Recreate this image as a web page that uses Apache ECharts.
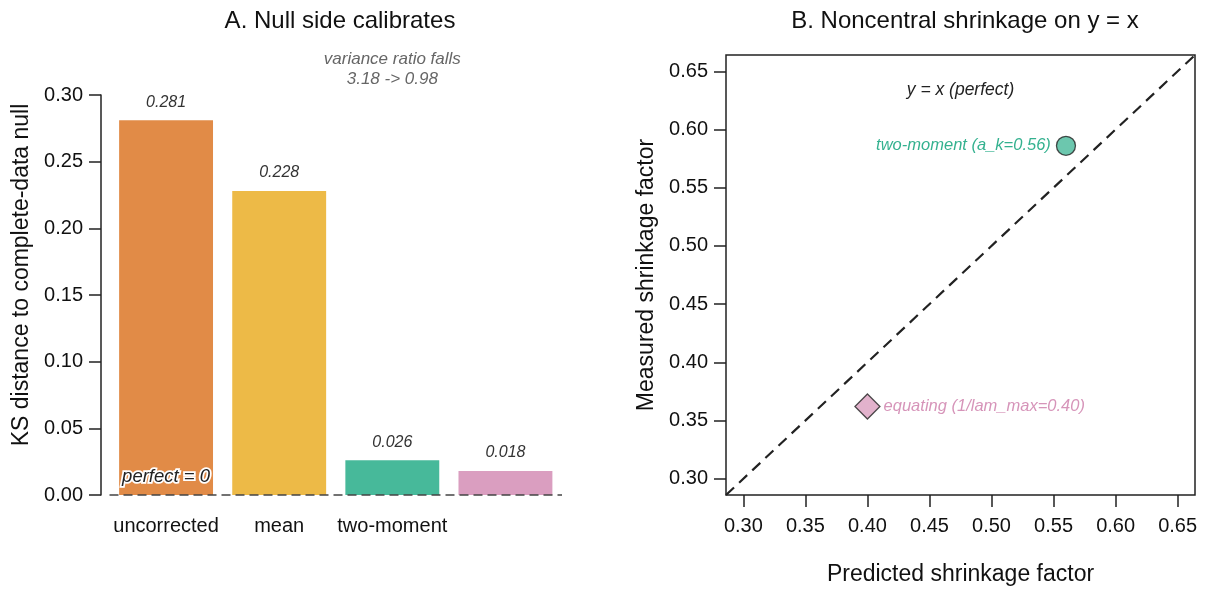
<!DOCTYPE html>
<html>
<head>
<meta charset="utf-8">
<script src="https://cdn.jsdelivr.net/npm/echarts@6/dist/echarts.min.js"></script>
<style>
  html, body { margin: 0; padding: 0; background: #fff; }
  #chart { width: 1205px; height: 593px; }
</style>
</head>
<body>
<div id="chart"></div>
<script>
// panel A data
const categories = ['uncorrected', 'mean', 'two-moment', 'equating'];
const ksDistance = [0.281, 0.228, 0.026, 0.018];
const barColors = ['rgba(213,94,0,0.72)', 'rgba(230,159,0,0.72)', 'rgba(0,158,115,0.72)', 'rgba(204,121,167,0.72)'];
const ticksA = [0, 0.05, 0.10, 0.15, 0.20, 0.25, 0.30];

// panel B data
const pointNames = ['two-moment (a_k=0.56)', 'equating (1/lam_max=0.40)'];
const predicted = [0.56, 0.40];
const measured = [0.586, 0.362];
const ticksB = [0.30, 0.35, 0.40, 0.45, 0.50, 0.55, 0.60, 0.65];
const rangeB = [0.286, 0.664];

const font = 'Liberation Sans, Arial, sans-serif';
const ink = '#222';

document.addEventListener('DOMContentLoaded', function() {
    const chart = echarts.init(document.getElementById('chart'));
    const fmt2 = function(v) { return v.toFixed(2); };

    const option = {
        animation: false,
        textStyle: { fontFamily: font },
        title: [
            { text: 'A. Null side calibrates', left: 335, top: 4, textAlign: 'center',
              textStyle: { fontSize: 24, fontWeight: 'normal', color: '#111', fontFamily: font } },
            { text: 'B. Noncentral shrinkage on y = x', left: 960, top: 4, textAlign: 'center',
              textStyle: { fontSize: 24, fontWeight: 'normal', color: '#111', fontFamily: font } }
        ],
        grid: [
            { left: 109.5, top: 55, width: 452.5, height: 440 },
            { left: 101, top: 95, width: 1, height: 400 },
            { left: 726, top: 55, width: 469, height: 440, show: true,
              borderColor: ink, borderWidth: 1.5, backgroundColor: 'transparent' }
        ],
        xAxis: [
            {
                type: 'category', gridIndex: 0, data: categories,
                axisLine: { show: false }, axisTick: { show: false },
                axisLabel: {
                    interval: 0, fontSize: 20, color: '#111', margin: 21,
                    formatter: function(v, i) { return i === 3 ? '' : v; }
                }
            },
            { type: 'value', gridIndex: 1, show: false },
            {
                type: 'value', gridIndex: 2, min: rangeB[0], max: rangeB[1],
                axisLine: { show: false },
                axisTick: { show: true, customValues: ticksB, length: 12, lineStyle: { color: ink, width: 1.5 } },
                axisLabel: { customValues: ticksB, formatter: fmt2, fontSize: 20, color: '#111', margin: 21 },
                splitLine: { show: false },
                name: 'Predicted shrinkage factor', nameLocation: 'middle', nameGap: 68,
                nameTextStyle: { fontSize: 23, color: '#111' }
            }
        ],
        yAxis: [
            {
                type: 'value', gridIndex: 0, min: 0, max: 0.33, offset: 8.5,
                axisLine: { show: false },
                axisTick: { show: true, customValues: ticksA, length: 12, lineStyle: { color: ink, width: 1.5 } },
                axisLabel: { customValues: ticksA, formatter: fmt2, fontSize: 20, color: '#111', margin: 18 },
                splitLine: { show: false },
                name: 'KS distance to complete-data null', nameLocation: 'middle', nameGap: 68,
                nameTextStyle: { fontSize: 23, color: '#111' }
            },
            {
                type: 'value', gridIndex: 1, min: 0, max: 0.30,
                axisLine: { show: true, lineStyle: { color: ink, width: 1.5 } },
                axisTick: { show: false }, axisLabel: { show: false }, splitLine: { show: false }
            },
            {
                type: 'value', gridIndex: 2, min: rangeB[0], max: rangeB[1],
                axisLine: { show: false },
                axisTick: { show: true, customValues: ticksB, length: 12, lineStyle: { color: ink, width: 1.5 } },
                axisLabel: { customValues: ticksB, formatter: fmt2, fontSize: 20, color: '#111', margin: 18 },
                splitLine: { show: false },
                name: 'Measured shrinkage factor', nameLocation: 'middle', nameGap: 68,
                nameTextStyle: { fontSize: 23, color: '#111' }
            }
        ],
        series: [
            {
                type: 'bar', xAxisIndex: 0, yAxisIndex: 0, barWidth: '83%',
                data: ksDistance.map(function(v, i) {
                    return { value: v, itemStyle: { color: barColors[i] } };
                }),
                label: {
                    show: true, position: 'top', distance: 10,
                    fontSize: 16, fontStyle: 'italic', color: '#333',
                    formatter: function(p) { return p.value.toFixed(3); }
                },
                markLine: {
                    silent: true, symbol: 'none', label: { show: false },
                    lineStyle: { color: '#444', width: 1.5, type: [9, 5] },
                    data: [{ yAxis: 0 }]
                },
                markPoint: {
                    silent: true, symbolSize: 0,
                    data: [
                        { coord: ['uncorrected', 0.0137],
                          label: { show: true, position: 'inside', formatter: 'perfect = 0',
                                   fontSize: 18.5, fontStyle: 'italic', color: ink,
                                   textBorderColor: '#fff', textBorderWidth: 3.5 } },
                        { coord: ['two-moment', 0.3195],
                          label: { show: true, position: 'inside', formatter: 'variance ratio falls\n3.18 -> 0.98',
                                   fontSize: 17, fontStyle: 'italic', color: '#666', lineHeight: 20 } }
                    ]
                }
            },
            {
                type: 'line', xAxisIndex: 2, yAxisIndex: 2, silent: true,
                symbol: 'none',
                lineStyle: { color: ink, width: 2.2, type: [11, 7] },
                data: [[rangeB[0], rangeB[0]], [rangeB[1], rangeB[1]]],
                markPoint: {
                    silent: true, symbolSize: 0,
                    data: [{ coord: [0.475, 0.634],
                             label: { show: true, position: 'inside', formatter: 'y = x (perfect)',
                                      fontSize: 17.5, fontStyle: 'italic', color: ink } }]
                }
            },
            {
                type: 'scatter', xAxisIndex: 2, yAxisIndex: 2,
                data: [{
                    name: pointNames[0], value: [predicted[0], measured[0]],
                    symbol: 'circle', symbolSize: 19,
                    itemStyle: { color: 'rgba(0,158,115,0.72)', borderColor: ink, borderWidth: 1.3 },
                    label: { show: true, position: 'left', distance: 5, formatter: '{b}',
                             fontSize: 16.5, fontStyle: 'italic', color: '#009E73' }
                }, {
                    name: pointNames[1], value: [predicted[1], measured[1]],
                    symbol: 'diamond', symbolSize: 25,
                    itemStyle: { color: 'rgba(204,121,167,0.72)', borderColor: ink, borderWidth: 1.3 },
                    label: { show: true, position: 'right', distance: 3, formatter: '{b}',
                             fontSize: 16.5, fontStyle: 'italic', color: '#CC79A7' }
                }]
            }
        ]
    };
    chart.setOption(option);
});
</script>
</body>
</html>
